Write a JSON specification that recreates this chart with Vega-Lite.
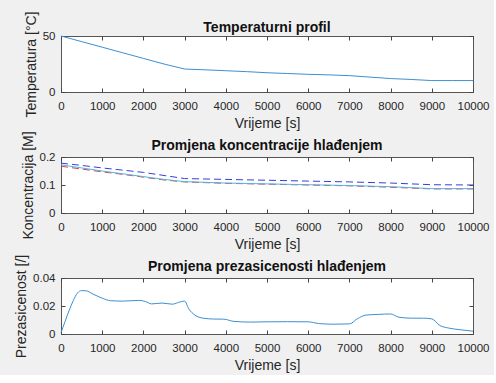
{
  "$schema": "https://vega.github.io/schema/vega-lite/v6.json",
  "background": "#f0f0f0",
  "padding": {"left": 14, "top": 10, "right": 4, "bottom": 2},
  "spacing": 65,
  "bounds": "flush",
  "config": {
    "font": "Liberation Sans",
    "view": {"fill": "white", "stroke": "#555555", "strokeWidth": 1},
    "axis": {
      "grid": false, "domain": false, "tickColor": "#444444", "tickSize": -4,
      "labelFont": "Liberation Sans", "labelFontSize": 11.5, "labelColor": "#262626",
      "labelOverlap": false, "labelFlush": false,
      "titleFont": "Liberation Sans", "titleFontSize": 14, "titleFontWeight": "normal", "titleColor": "#262626",
      "minExtent": 0
    },
    "axisX": {"labelPadding": 12, "titlePadding": 5},
    "axisY": {"labelPadding": 10, "titlePadding": 4},
    "title": {"font": "Liberation Sans", "fontSize": 14, "fontWeight": "bold", "color": "#111111"}
  },
  "datasets": {
    "temp": [
      {"t": 0, "v": 50}, {"t": 500, "v": 45}, {"t": 1000, "v": 40}, {"t": 1500, "v": 35}, {"t": 2000, "v": 30},
      {"t": 2500, "v": 25}, {"t": 3000, "v": 20.5}, {"t": 3500, "v": 19.8}, {"t": 4000, "v": 19}, {"t": 4500, "v": 18.2},
      {"t": 5000, "v": 17.2}, {"t": 5500, "v": 16.5}, {"t": 6000, "v": 15.8}, {"t": 6500, "v": 15.3}, {"t": 7000, "v": 14.6},
      {"t": 7500, "v": 13.3}, {"t": 8000, "v": 12}, {"t": 8500, "v": 11.2}, {"t": 9000, "v": 10.2}, {"t": 9500, "v": 10.2}, {"t": 10000, "v": 10.2}
    ],
    "cblue": [
      {"t": 0, "v": 0.178}, {"t": 500, "v": 0.17}, {"t": 1000, "v": 0.161}, {"t": 1500, "v": 0.153}, {"t": 2000, "v": 0.145},
      {"t": 2500, "v": 0.134}, {"t": 3000, "v": 0.123}, {"t": 4000, "v": 0.12}, {"t": 5000, "v": 0.117}, {"t": 6000, "v": 0.114},
      {"t": 7000, "v": 0.111}, {"t": 8000, "v": 0.107}, {"t": 9000, "v": 0.101}, {"t": 10000, "v": 0.1}
    ],
    "cred": [
      {"t": 0, "v": 0.167}, {"t": 500, "v": 0.157}, {"t": 1000, "v": 0.147}, {"t": 1500, "v": 0.138}, {"t": 2000, "v": 0.128},
      {"t": 2500, "v": 0.118}, {"t": 3000, "v": 0.111}, {"t": 4000, "v": 0.106}, {"t": 5000, "v": 0.103}, {"t": 6000, "v": 0.1},
      {"t": 7000, "v": 0.097}, {"t": 8000, "v": 0.092}, {"t": 9000, "v": 0.086}, {"t": 10000, "v": 0.086}
    ],
    "ccyan": [
      {"t": 0, "v": 0.172}, {"t": 500, "v": 0.161}, {"t": 1000, "v": 0.15}, {"t": 1500, "v": 0.14}, {"t": 2000, "v": 0.13},
      {"t": 2500, "v": 0.12}, {"t": 3000, "v": 0.112}, {"t": 4000, "v": 0.107}, {"t": 5000, "v": 0.104}, {"t": 6000, "v": 0.101},
      {"t": 7000, "v": 0.098}, {"t": 8000, "v": 0.094}, {"t": 9000, "v": 0.087}, {"t": 10000, "v": 0.087}
    ],
    "sup": [
      {"t": 0, "v": 0.001}, {"t": 100, "v": 0.009}, {"t": 200, "v": 0.017}, {"t": 300, "v": 0.024}, {"t": 400, "v": 0.0293},
      {"t": 500, "v": 0.031}, {"t": 600, "v": 0.0309}, {"t": 800, "v": 0.0282}, {"t": 1000, "v": 0.0256}, {"t": 1200, "v": 0.0238},
      {"t": 1500, "v": 0.0235}, {"t": 1900, "v": 0.024}, {"t": 2050, "v": 0.0232}, {"t": 2200, "v": 0.0215}, {"t": 2450, "v": 0.0221},
      {"t": 2700, "v": 0.0213}, {"t": 2900, "v": 0.023}, {"t": 3000, "v": 0.0235}, {"t": 3100, "v": 0.018}, {"t": 3250, "v": 0.0135},
      {"t": 3450, "v": 0.0113}, {"t": 3700, "v": 0.0107}, {"t": 3950, "v": 0.0106}, {"t": 4200, "v": 0.009}, {"t": 4600, "v": 0.0085},
      {"t": 5000, "v": 0.0087}, {"t": 5500, "v": 0.0088}, {"t": 6000, "v": 0.0087}, {"t": 6250, "v": 0.0075}, {"t": 6600, "v": 0.007},
      {"t": 7000, "v": 0.0072}, {"t": 7200, "v": 0.011}, {"t": 7400, "v": 0.0135}, {"t": 7700, "v": 0.014}, {"t": 8000, "v": 0.0143},
      {"t": 8200, "v": 0.012}, {"t": 8500, "v": 0.0113}, {"t": 8800, "v": 0.0113}, {"t": 9000, "v": 0.0108}, {"t": 9200, "v": 0.006},
      {"t": 9400, "v": 0.0043}, {"t": 9700, "v": 0.003}, {"t": 10000, "v": 0.002}
    ]
  },
  "vconcat": [
    {
      "width": 412, "height": 56,
      "title": {"text": "Temperaturni profil", "offset": -24},
      "layer": [
        {
          "data": {"name": "temp"},
          "mark": {"type": "line", "color": "#3d8fd1", "strokeWidth": 1},
          "encoding": {
            "x": {"field": "t", "type": "quantitative", "scale": {"domain": [0, 10000], "nice": false},
                  "axis": {"title": "Vrijeme [s]", "values": [0,1000,2000,3000,4000,5000,6000,7000,8000,9000,10000], "format": "d"}},
            "y": {"field": "v", "type": "quantitative", "scale": {"domain": [0, 50], "nice": false},
                  "axis": {"title": "Temperatura [°C]", "values": [0, 50], "format": "~r"}}
          }
        },
        {
          "data": {"name": "temp"},
          "mark": {"type": "line", "opacity": 0},
          "encoding": {
            "x": {"field": "t", "type": "quantitative", "axis": {"orient": "top", "labels": false, "title": null, "labelPadding": 0, "values": [0,1000,2000,3000,4000,5000,6000,7000,8000,9000,10000]}},
            "y": {"field": "v", "type": "quantitative", "axis": {"orient": "right", "labels": false, "title": null, "labelPadding": 0, "values": [0, 50]}}
          }
        }
      ],
      "resolve": {"axis": {"x": "independent", "y": "independent"}}
    },
    {
      "width": 412, "height": 56,
      "title": {"text": "Promjena koncentracije hlađenjem", "offset": -22},
      "layer": [
        {
          "data": {"name": "cblue"},
          "mark": {"type": "line", "color": "#3a3ae6", "strokeWidth": 1, "strokeDash": [7, 4]},
          "encoding": {
            "x": {"field": "t", "type": "quantitative", "scale": {"domain": [0, 10000], "nice": false},
                  "axis": {"title": "Vrijeme [s]", "values": [0,1000,2000,3000,4000,5000,6000,7000,8000,9000,10000], "format": "d"}},
            "y": {"field": "v", "type": "quantitative", "scale": {"domain": [0, 0.2], "nice": false},
                  "axis": {"title": "Koncentracija [M]", "values": [0, 0.1, 0.2], "format": "~r"}}
          }
        },
        {
          "data": {"name": "cred"},
          "mark": {"type": "line", "color": "#e03a3a", "strokeWidth": 1, "strokeDash": [7, 4]},
          "encoding": {
            "x": {"field": "t", "type": "quantitative", "axis": {"orient": "top", "labels": false, "title": null, "labelPadding": 0, "values": [0,1000,2000,3000,4000,5000,6000,7000,8000,9000,10000]}},
            "y": {"field": "v", "type": "quantitative", "axis": {"orient": "right", "labels": false, "title": null, "labelPadding": 0, "values": [0, 0.1, 0.2]}}
          }
        },
        {
          "data": {"name": "ccyan"},
          "mark": {"type": "line", "color": "#4fb7e3", "strokeWidth": 1},
          "encoding": {
            "x": {"field": "t", "type": "quantitative", "axis": null},
            "y": {"field": "v", "type": "quantitative", "axis": null}
          }
        }
      ],
      "resolve": {"axis": {"x": "independent", "y": "independent"}}
    },
    {
      "width": 412, "height": 56,
      "title": {"text": "Promjena prezasicenosti hlađenjem", "offset": -20},
      "layer": [
        {
          "data": {"name": "sup"},
          "mark": {"type": "line", "color": "#3d8fd1", "strokeWidth": 1, "interpolate": "monotone"},
          "encoding": {
            "x": {"field": "t", "type": "quantitative", "scale": {"domain": [0, 10000], "nice": false},
                  "axis": {"title": "Vrijeme [s]", "values": [0,1000,2000,3000,4000,5000,6000,7000,8000,9000,10000], "format": "d"}},
            "y": {"field": "v", "type": "quantitative", "scale": {"domain": [0, 0.04], "nice": false},
                  "axis": {"title": "Prezasicenost [/]", "values": [0, 0.02, 0.04], "format": "~r"}}
          }
        },
        {
          "data": {"name": "sup"},
          "mark": {"type": "line", "opacity": 0},
          "encoding": {
            "x": {"field": "t", "type": "quantitative", "axis": {"orient": "top", "labels": false, "title": null, "labelPadding": 0, "values": [0,1000,2000,3000,4000,5000,6000,7000,8000,9000,10000]}},
            "y": {"field": "v", "type": "quantitative", "axis": {"orient": "right", "labels": false, "title": null, "labelPadding": 0, "values": [0, 0.02, 0.04]}}
          }
        }
      ],
      "resolve": {"axis": {"x": "independent", "y": "independent"}}
    }
  ]
}
